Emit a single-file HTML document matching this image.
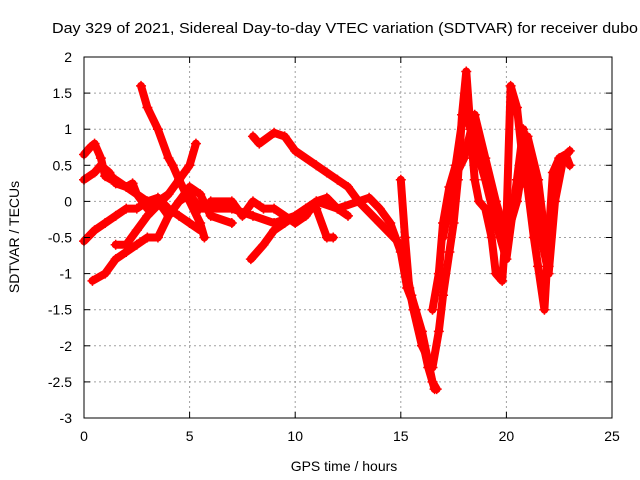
<!DOCTYPE html>
<html><head><meta charset="utf-8"><style>
body{margin:0;background:#fff}
svg{display:block;font-family:"Liberation Sans",sans-serif}
</style></head><body>
<svg id="chart" width="640" height="480">
<text x="52" y="33" font-size="15" textLength="586" lengthAdjust="spacingAndGlyphs">Day 329 of 2021, Sidereal Day-to-day VTEC variation (SDTVAR) for receiver dubo</text>
<g id="grid"></g>
<g id="series"></g>
<rect x="84" y="57" width="528" height="361" fill="none" stroke="#000" stroke-width="1"/>
<g id="ticks"></g>
<text x="344" y="471" font-size="14" text-anchor="middle">GPS time / hours</text>
<text transform="translate(19,237) rotate(-90)" font-size="14" text-anchor="middle">SDTVAR / TECUs</text>
</svg>
<script>
const xTicks=[0,5,10,15,20,25];
const yTicks=[2,1.5,1,0.5,0,-0.5,-1,-1.5,-2,-2.5,-3];
const trackA=[[0,0.65],[0.3,0.75],[0.5,0.8],[0.8,0.6],[1,0.35],[1.3,0.3],[1.5,0.3],[2,0.2],[2.5,0.1],[3,-0.1],[3.5,0],[4,-0.2],[4.5,0],[5,0.1],[5.5,-0.1],[6,-0.1],[7,-0.1],[8,-0.2],[9,-0.3],[10,-0.2],[11,0],[12,-0.1],[13,0],[14,-0.3],[15,-0.6],[15.5,-1.3],[16,-1.8],[16.5,-2.5],[16.7,-2.6]];
const trackB=[[0,0.3],[0.5,0.4],[0.8,0.5],[1.2,0.4],[1.5,0.25],[2,0.2],[2.3,0.25],[2.5,0.1],[3,0],[3.5,0.05],[4,-0.1],[4.5,-0.2],[5,-0.3],[5.5,-0.4]];
const trackC=[[0,-0.55],[0.5,-0.4],[1,-0.3],[1.5,-0.2],[2,-0.1],[2.5,-0.1],[3,0],[3.5,0],[4,0.1],[4.5,0.3],[5,0.5],[5.3,0.8]];
const trackD=[[0.4,-1.1],[1,-1.0],[1.5,-0.8],[2,-0.7],[2.5,-0.6],[3,-0.5],[3.5,-0.5],[4,-0.2],[4.5,0],[5,0.2],[5.5,0.1],[6,-0.2],[7,-0.3]];
const trackE=[[2.7,1.6],[3,1.3],[3.5,1.0],[4,0.6],[4.2,0.5],[4.5,0.3],[5,0],[5.5,-0.3],[5.7,-0.5]];
const trackF=[[1.5,-0.6],[2,-0.6],[2.5,-0.4],[3,-0.2],[3.5,-0.05],[4,0.1]];
const trackG=[[8,0.9],[8.3,0.8],[9,0.95],[9.5,0.9],[10,0.7],[11,0.5],[11.5,0.4],[12,0.3],[12.5,0.2],[13,0],[13.5,0.05],[14,-0.1],[14.5,-0.3],[15,-0.7],[15.3,-1.2],[15.7,-1.5],[16,-1.9],[16.3,-2.3],[16.6,-2.6]];
const trackH=[[7.9,-0.8],[8.5,-0.6],[9,-0.4],[9.5,-0.3],[10,-0.2],[10.5,-0.1],[11,-0.1],[11.5,-0.5],[11.8,-0.5]];
const trackI=[[6,0],[7,0],[7.5,-0.2],[8,0],[8.5,-0.1],[9,-0.1],[10,-0.3],[10.5,-0.2],[11,0],[11.5,0.05],[12,-0.1],[12.5,-0.2]];
const trackJ=[[15,0.3],[15.2,-0.5],[15.4,-1.2],[15.6,-1.5],[16,-2.0],[16.5,-2.3],[16.8,-1.8],[17,-1.3],[17.3,-0.7],[17.5,-0.3],[17.7,0.3],[17.9,1.2],[18.1,1.8],[18.3,1.0],[18.5,0.3],[18.7,0.0],[19,-0.1],[19.3,-0.5],[19.5,-1.0],[19.8,-1.1],[20,-0.3],[20.2,1.6],[20.5,1.3],[20.8,0.5],[21,0.2],[21.3,-0.5],[21.5,-0.9],[21.8,-1.5],[22,-0.5],[22.2,0.4],[22.5,0.6],[22.8,0.65],[23,0.5]];
const trackK=[[16.5,-1.5],[16.8,-1.0],[17,-0.3],[17.3,0.2],[17.6,0.5],[18,1.3],[18.5,0.8],[19,0.3],[19.5,-0.3],[20,-0.8],[20.5,0.3],[20.8,1.0],[21,0.6],[21.5,-0.3],[22,-1.0],[22.3,0.0],[22.7,0.6],[23,0.7]];
const trackL=[[17,-0.5],[17.5,0.3],[18,0.6],[18.5,1.2],[19,0.6],[19.5,0.0],[20,-0.5],[20.5,0.0],[21,0.9],[21.5,0.3],[22,-0.9]];
const tracks=[trackA,trackB,trackC,trackD,trackE,trackF,trackG,trackH,trackI,trackJ,trackK,trackL];

const NS="http://www.w3.org/2000/svg";
const X0=84,X1=612,Y0=418,Y1=57;
const xs=v=>X0+(v-0)/25*(X1-X0);
const ys=v=>Y0-(v+3)/5*(Y0-Y1);
function mk(tag,attrs,parent){const e=document.createElementNS(NS,tag);for(const k in attrs)e.setAttribute(k,attrs[k]);parent.appendChild(e);return e;}
const grid=document.getElementById('grid'),ticks=document.getElementById('ticks'),ser=document.getElementById('series');
xTicks.forEach(t=>{
  const x=xs(t);
  if(t>0&&t<25){const g=mk('line',{x1:x,x2:x,y1:Y0,y2:Y1,stroke:'#a0a0a0','stroke-dasharray':'2,3'},grid);
  
  }
  mk('line',{x1:x,x2:x,y1:Y0,y2:Y0-6,stroke:'#000'},ticks);
  mk('line',{x1:x,x2:x,y1:Y1,y2:Y1+6,stroke:'#000'},ticks);
  const l=mk('text',{x:x,y:Y0+23,'font-size':14,'text-anchor':'middle'},ticks);l.textContent=t;
  
  
});
yTicks.forEach(t=>{
  const y=ys(t);
  if(t<2&&t>-3){const g=mk('line',{x1:X0,x2:X1,y1:y,y2:y,stroke:'#a0a0a0','stroke-dasharray':'2,3'},grid);
  
  }
  mk('line',{x1:X0,x2:X0+6,y1:y,y2:y,stroke:'#000'},ticks);
  mk('line',{x1:X1,x2:X1-6,y1:y,y2:y,stroke:'#000'},ticks);
  const l=mk('text',{x:X0-12,y:y+5,'font-size':14,'text-anchor':'end'},ticks);l.textContent=t;
  
  
});
tracks.forEach((tr,i)=>{
  const p=mk('polyline',{points:tr.map(d=>xs(d[0])+','+ys(d[1])).join(' '),fill:'none',stroke:'#f00','stroke-width':8,'stroke-linejoin':'round','stroke-linecap':'round'},ser);
  
  
  tr.forEach(d=>{
    const x=xs(d[0]),y=ys(d[1]);
    const m=mk('path',{d:`M${x-5},${y}H${x+5}M${x},${y-5}V${y+5}`,stroke:'#f00','stroke-width':1.5},ser);
    
    
  });
});
</script>
</body></html>
